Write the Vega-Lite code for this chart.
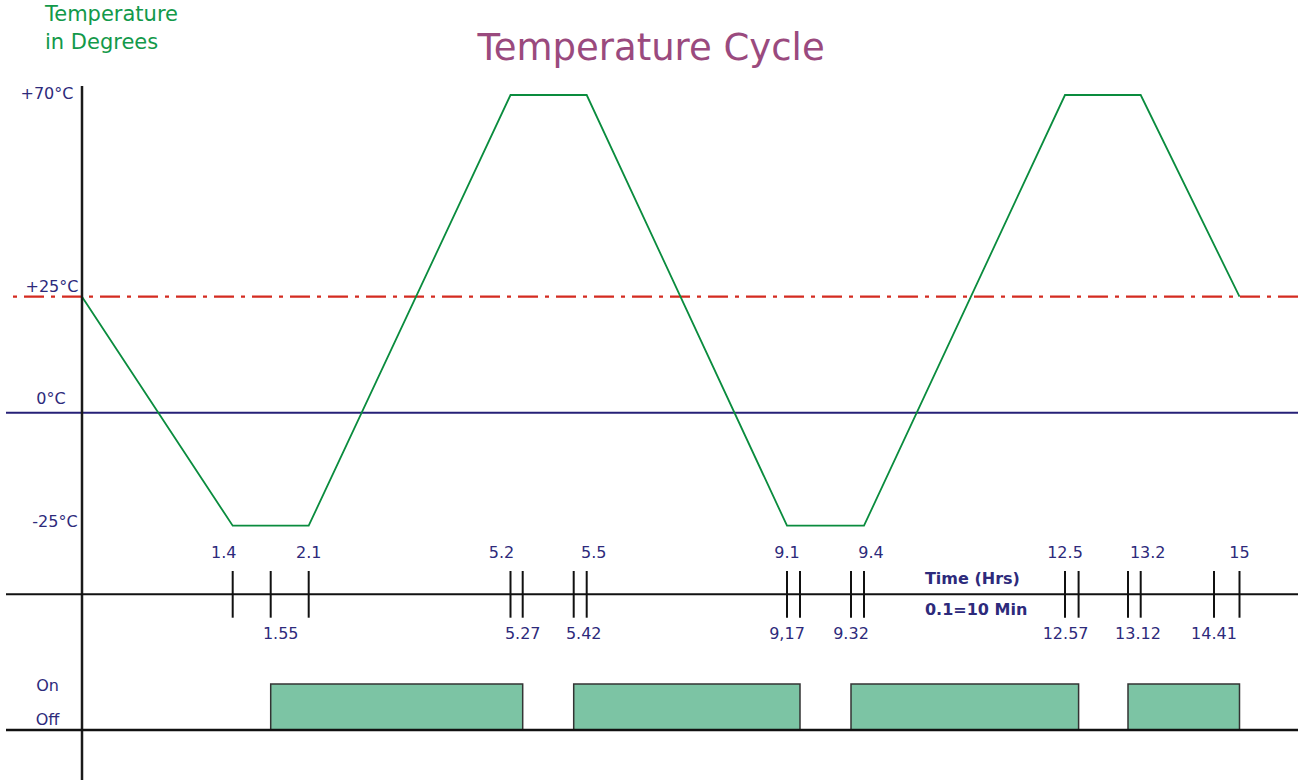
{
  "$schema": "https://vega.github.io/schema/vega-lite/v6.json",
  "width": 1292,
  "height": 780,
  "autosize": {"type": "none"},
  "padding": {"left": 6, "top": 0, "right": 3, "bottom": 0},
  "background": "white",
  "config": {"view": {"stroke": null}, "text": {"font": "DejaVu Sans"}},
  "datasets": {
    "temp": [
      {"t": 0, "temp": 25}, {"t": 1.4, "temp": -25}, {"t": 2.1, "temp": -25},
      {"t": 5.2, "temp": 70}, {"t": 5.5, "temp": 70}, {"t": 9.1, "temp": -25},
      {"t": 9.4, "temp": -25}, {"t": 12.5, "temp": 70}, {"t": 13.2, "temp": 70},
      {"t": 15, "temp": 25}
    ],
    "ticks": [
      {"t": 1.4, "label": "1.4", "side": "above"},
      {"t": 1.55, "label": "1.55", "side": "below"},
      {"t": 2.1, "label": "2.1", "side": "above"},
      {"t": 5.2, "label": "5.2", "side": "above"},
      {"t": 5.27, "label": "5.27", "side": "below"},
      {"t": 5.42, "label": "5.42", "side": "below"},
      {"t": 5.5, "label": "5.5", "side": "above"},
      {"t": 9.1, "label": "9.1", "side": "above"},
      {"t": 9.17, "label": "9,17", "side": "below"},
      {"t": 9.32, "label": "9.32", "side": "below"},
      {"t": 9.4, "label": "9.4", "side": "above"},
      {"t": 12.5, "label": "12.5", "side": "above"},
      {"t": 12.57, "label": "12.57", "side": "below"},
      {"t": 13.12, "label": "13.12", "side": "below"},
      {"t": 13.2, "label": "13.2", "side": "above"},
      {"t": 14.41, "label": "14.41", "side": "below"},
      {"t": 15, "label": "15", "side": "above"}
    ],
    "onoff": [
      {"start": 1.55, "end": 5.27},
      {"start": 5.42, "end": 9.17},
      {"start": 9.32, "end": 12.57},
      {"start": 13.12, "end": 15}
    ]
  },
  "resolve": {"scale": {"y": "independent"}},
  "layer": [
    {
      "layer": [
        {
          "data": {"values": [{}]},
          "mark": {"type": "rule", "color": "#d42b20", "strokeWidth": 2.3, "strokeDash": [20, 7, 4, 7]},
          "encoding": {"y": {"datum": 25, "type": "quantitative", "axis": null, "scale": {"type": "linear", "zero": false, "nice": false, "domain": [-25, 0, 25, 70], "range": [525.7, 412.7, 296.7, 95]}}}
        },
        {
          "data": {"values": [{}]},
          "mark": {"type": "rule", "color": "#262077", "strokeWidth": 2},
          "encoding": {"y": {"datum": 0, "type": "quantitative", "axis": null}}
        },
        {
          "data": {"name": "temp"},
          "mark": {"type": "line", "color": "#0a8c3e", "strokeWidth": 1.8},
          "encoding": {
            "x": {"field": "t", "type": "quantitative", "axis": null, "scale": {"type": "linear", "zero": false, "nice": false, "domain": [0, 1.4, 1.55, 2.1, 5.2, 5.27, 5.42, 5.5, 9.1, 9.17, 9.32, 9.4, 12.5, 12.57, 13.12, 13.2, 14.41, 15], "range": [76, 226.7, 264.7, 302.7, 504.5, 516.7, 567.7, 580.7, 781, 794, 845, 858, 1059, 1072.6, 1122, 1134.7, 1208, 1233.5]}},
            "y": {"field": "temp", "type": "quantitative", "axis": null}
          }
        },
        {
          "data": {"values": [{}]},
          "mark": {"type": "rule", "color": "#1a1a1a", "strokeWidth": 2.5},
          "encoding": {
            "x": {"datum": 0, "type": "quantitative", "axis": null},
            "y": {"datum": 72, "type": "quantitative", "axis": null},
            "y2": {"datum": -90}
          }
        },
        {
          "data": {"values": [{}]},
          "mark": {"type": "text", "text": "+70°C", "fontSize": 16, "color": "#2d2a7b", "align": "center", "baseline": "alphabetic", "dx": -35, "dy": 4},
          "encoding": {"x": {"datum": 0, "type": "quantitative", "axis": null}, "y": {"datum": 70, "type": "quantitative", "axis": null}}
        },
        {
          "data": {"values": [{}]},
          "mark": {"type": "text", "text": "+25°C", "fontSize": 16, "color": "#2d2a7b", "align": "center", "baseline": "alphabetic", "dx": -30, "dy": -5},
          "encoding": {"x": {"datum": 0, "type": "quantitative", "axis": null}, "y": {"datum": 25, "type": "quantitative", "axis": null}}
        },
        {
          "data": {"values": [{}]},
          "mark": {"type": "text", "text": "0°C", "fontSize": 16, "color": "#2d2a7b", "align": "center", "baseline": "alphabetic", "dx": -31, "dy": -9},
          "encoding": {"x": {"datum": 0, "type": "quantitative", "axis": null}, "y": {"datum": 0, "type": "quantitative", "axis": null}}
        },
        {
          "data": {"values": [{}]},
          "mark": {"type": "text", "text": "-25°C", "fontSize": 16, "color": "#2d2a7b", "align": "center", "baseline": "alphabetic", "dx": -27, "dy": 1},
          "encoding": {"x": {"datum": 0, "type": "quantitative", "axis": null}, "y": {"datum": -25, "type": "quantitative", "axis": null}}
        },
        {
          "data": {"values": [{}]},
          "mark": {"type": "text", "text": "Temperature Cycle", "fontSize": 37, "color": "#9a4a7e", "align": "center", "baseline": "alphabetic"},
          "encoding": {"x": {"datum": 6.656, "type": "quantitative", "axis": null}, "y": {"datum": 77.8, "type": "quantitative", "axis": null}}
        },
        {
          "data": {"values": [{}]},
          "mark": {"type": "text", "text": ["Temperature", "in Degrees"], "fontSize": 21, "lineHeight": 27.6, "color": "#12994a", "align": "left", "baseline": "alphabetic"},
          "encoding": {"x": {"datum": -0.344, "type": "quantitative", "axis": null}, "y": {"datum": 86.4, "type": "quantitative", "axis": null}}
        }
      ]
    },
    {
      "layer": [
        {
          "data": {"values": [{}]},
          "mark": {"type": "rule", "color": "#111111", "strokeWidth": 2},
          "encoding": {"y": {"datum": 0, "type": "quantitative", "axis": null, "scale": {"type": "linear", "zero": false, "nice": false, "domain": [-1, 1], "range": [617.7, 571]}}}
        },
        {
          "data": {"name": "ticks"},
          "mark": {"type": "rule", "color": "#111111", "strokeWidth": 2},
          "encoding": {
            "x": {"field": "t", "type": "quantitative", "axis": null},
            "y": {"datum": -1, "type": "quantitative", "axis": null},
            "y2": {"datum": 1}
          }
        },
        {
          "data": {"name": "ticks"},
          "transform": [{"filter": "datum.side === 'above' && indexof([1.4, 5.2], datum.t) >= 0"}],
          "mark": {"type": "text", "fontSize": 16, "color": "#2d2a7b", "align": "center", "baseline": "alphabetic", "dy": -13, "dx": -9},
          "encoding": {
            "x": {"field": "t", "type": "quantitative", "axis": null},
            "y": {"datum": 1, "type": "quantitative", "axis": null},
            "text": {"field": "label"}
          }
        },
        {
          "data": {"name": "ticks"},
          "transform": [{"filter": "datum.side === 'above' && indexof([5.5, 9.4, 13.2], datum.t) >= 0"}],
          "mark": {"type": "text", "fontSize": 16, "color": "#2d2a7b", "align": "center", "baseline": "alphabetic", "dy": -13, "dx": 7},
          "encoding": {
            "x": {"field": "t", "type": "quantitative", "axis": null},
            "y": {"datum": 1, "type": "quantitative", "axis": null},
            "text": {"field": "label"}
          }
        },
        {
          "data": {"name": "ticks"},
          "transform": [{"filter": "datum.side === 'above' && indexof([1.4, 5.2, 5.5, 9.4, 13.2], datum.t) < 0"}],
          "mark": {"type": "text", "fontSize": 16, "color": "#2d2a7b", "align": "center", "baseline": "alphabetic", "dy": -13},
          "encoding": {
            "x": {"field": "t", "type": "quantitative", "axis": null},
            "y": {"datum": 1, "type": "quantitative", "axis": null},
            "text": {"field": "label"}
          }
        },
        {
          "data": {"name": "ticks"},
          "transform": [{"filter": "datum.side === 'below' && indexof([9.17, 12.57], datum.t) >= 0"}],
          "mark": {"type": "text", "fontSize": 16, "color": "#2d2a7b", "align": "center", "baseline": "alphabetic", "dy": 21, "dx": -13},
          "encoding": {
            "x": {"field": "t", "type": "quantitative", "axis": null},
            "y": {"datum": -1, "type": "quantitative", "axis": null},
            "text": {"field": "label"}
          }
        },
        {
          "data": {"name": "ticks"},
          "transform": [{"filter": "datum.side === 'below' && indexof([1.55, 5.42, 13.12], datum.t) >= 0"}],
          "mark": {"type": "text", "fontSize": 16, "color": "#2d2a7b", "align": "center", "baseline": "alphabetic", "dy": 21, "dx": 10},
          "encoding": {
            "x": {"field": "t", "type": "quantitative", "axis": null},
            "y": {"datum": -1, "type": "quantitative", "axis": null},
            "text": {"field": "label"}
          }
        },
        {
          "data": {"name": "ticks"},
          "transform": [{"filter": "datum.side === 'below' && indexof([9.17, 12.57, 1.55, 5.42, 13.12], datum.t) < 0"}],
          "mark": {"type": "text", "fontSize": 16, "color": "#2d2a7b", "align": "center", "baseline": "alphabetic", "dy": 21},
          "encoding": {
            "x": {"field": "t", "type": "quantitative", "axis": null},
            "y": {"datum": -1, "type": "quantitative", "axis": null},
            "text": {"field": "label"}
          }
        },
        {
          "data": {"values": [{}]},
          "mark": {"type": "text", "text": "Time (Hrs)", "fontSize": 16, "fontWeight": "bold", "color": "#2d2a7b", "align": "left", "baseline": "alphabetic", "dy": -10},
          "encoding": {"x": {"datum": 10.34, "type": "quantitative", "axis": null}, "y": {"datum": 0, "type": "quantitative", "axis": null}}
        },
        {
          "data": {"values": [{}]},
          "mark": {"type": "text", "text": "0.1=10 Min", "fontSize": 16, "fontWeight": "bold", "color": "#2d2a7b", "align": "left", "baseline": "alphabetic", "dy": 21},
          "encoding": {"x": {"datum": 10.34, "type": "quantitative", "axis": null}, "y": {"datum": 0, "type": "quantitative", "axis": null}}
        }
      ]
    },
    {
      "layer": [
        {
          "data": {"name": "onoff"},
          "mark": {"type": "rect", "fill": "#7cc4a4", "stroke": "#333333", "strokeWidth": 1.5},
          "encoding": {
            "x": {"field": "start", "type": "quantitative", "axis": null},
            "x2": {"field": "end"},
            "y": {"datum": 0, "type": "quantitative", "axis": null, "scale": {"type": "linear", "zero": false, "nice": false, "domain": [0, 1], "range": [730, 684]}},
            "y2": {"datum": 1}
          }
        },
        {
          "data": {"values": [{}]},
          "mark": {"type": "rule", "color": "#111111", "strokeWidth": 2.5},
          "encoding": {"y": {"datum": 0, "type": "quantitative", "axis": null}}
        },
        {
          "data": {"values": [{}]},
          "mark": {"type": "text", "text": "On", "fontSize": 16, "color": "#2d2a7b", "align": "center", "baseline": "alphabetic", "dx": -34.5, "dy": 7},
          "encoding": {"x": {"datum": 0, "type": "quantitative", "axis": null}, "y": {"datum": 1, "type": "quantitative", "axis": null}}
        },
        {
          "data": {"values": [{}]},
          "mark": {"type": "text", "text": "Off", "fontSize": 16, "color": "#2d2a7b", "align": "center", "baseline": "alphabetic", "dx": -34.5, "dy": -5},
          "encoding": {"x": {"datum": 0, "type": "quantitative", "axis": null}, "y": {"datum": 0, "type": "quantitative", "axis": null}}
        }
      ]
    }
  ]
}
